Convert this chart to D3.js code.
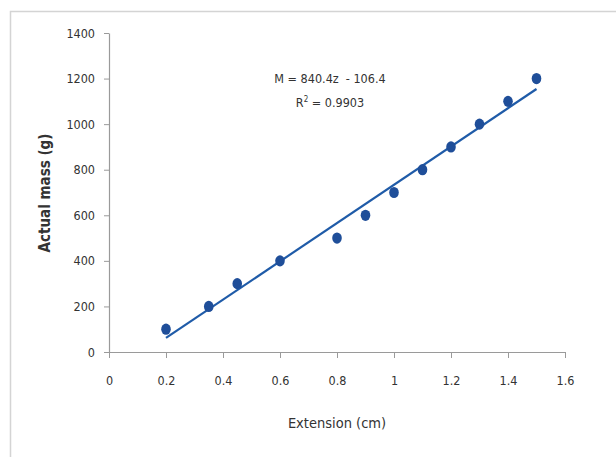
<!DOCTYPE html>
<html>
<head>
<meta charset="utf-8">
<script src="https://cdn.jsdelivr.net/npm/d3@7"></script>
<style>
  body { margin: 0; background: #fff; }
  text { font-family: "Liberation Sans Narrow", "DejaVu Sans Condensed", "Noto Sans", sans-serif; fill: #333; }
</style>
</head>
<body>
<svg id="chart"></svg>
<script>
var extension = [0.2, 0.35, 0.45, 0.6, 0.8, 0.9, 1.0, 1.1, 1.2, 1.3, 1.4, 1.5];
var mass = [100, 200, 300, 400, 500, 600, 700, 800, 900, 1000, 1100, 1200];
var x_ticks = [0, 0.2, 0.4, 0.6, 0.8, 1, 1.2, 1.4, 1.6];
var y_ticks = [0, 200, 400, 600, 800, 1000, 1200, 1400];
var fit_slope = 840.4;
var fit_icept = -106.4;

var svg = d3.select("#chart").attr("width", 616).attr("height", 457);

// outer chart frame (only left and top visible)
svg.append("path")
  .attr("d", "M10.5,457 L10.5,11.5 L616,11.5")
  .style("fill", "none").style("stroke", "#d4d4d4").style("stroke-width", 1.5);

var xs = d3.scaleLinear().domain([0, 1.6]).range([109, 565]);
var ys = d3.scaleLinear().domain([0, 1400]).range([352, 33]);

var xaxis = svg.append("g")
  .attr("transform", "translate(0,352)")
  .call(d3.axisBottom(xs).tickValues(x_ticks).tickFormat(d => String(d)).tickSize(6).tickSizeOuter(0).tickPadding(18));
var yaxis = svg.append("g")
  .attr("transform", "translate(109,0)")
  .call(d3.axisLeft(ys).tickValues(y_ticks).tickFormat(d => String(d)).tickSize(5).tickSizeOuter(0).tickPadding(9));

for (let ax of [xaxis, yaxis]) {
  ax.select(".domain").style("stroke", "#9a9a9a").style("stroke-width", 1.2);
  ax.selectAll(".tick line").style("stroke", "#9a9a9a");
  ax.selectAll(".tick text").style("font-size", "12.5px").style("fill", "#333");
}

// trend line
svg.append("line")
  .attr("x1", xs(0.2)).attr("y1", ys(fit_slope*0.2 + fit_icept))
  .attr("x2", xs(1.5)).attr("y2", ys(fit_slope*1.5 + fit_icept))
  .style("stroke", "#1f5ba8").style("stroke-width", 2.2);

svg.selectAll(".pt")
  .data(extension)
  .enter()
  .append("ellipse")
    .attr("class", "pt")
    .attr("cx", d => xs(d))
    .attr("cy", (d, i) => ys(mass[i]))
    .attr("rx", 4.8)
    .attr("ry", 5.6)
    .style("fill", "#1f4e99");

svg.append("text")
  .attr("x", 330).attr("y", 83)
  .attr("text-anchor", "middle")
  .style("font-size", "12.5px")
  .style("white-space", "pre")
  .text("M = 840.4z  - 106.4");
svg.append("text")
  .attr("x", 330).attr("y", 107)
  .attr("text-anchor", "middle")
  .style("font-size", "12.5px")
  .html('R<tspan dy="-5" style="font-size:8px">2</tspan><tspan dy="5"> = 0.9903</tspan>');

svg.append("text")
  .attr("x", 337).attr("y", 428)
  .attr("text-anchor", "middle")
  .style("font-size", "14.5px")
  .text("Extension (cm)");

svg.append("text")
  .attr("transform", "translate(50,193) rotate(-90)")
  .attr("text-anchor", "middle")
  .style("font-size", "15px")
  .style("font-weight", "bold")
  .text("Actual mass (g)");
</script>
</body>
</html>
